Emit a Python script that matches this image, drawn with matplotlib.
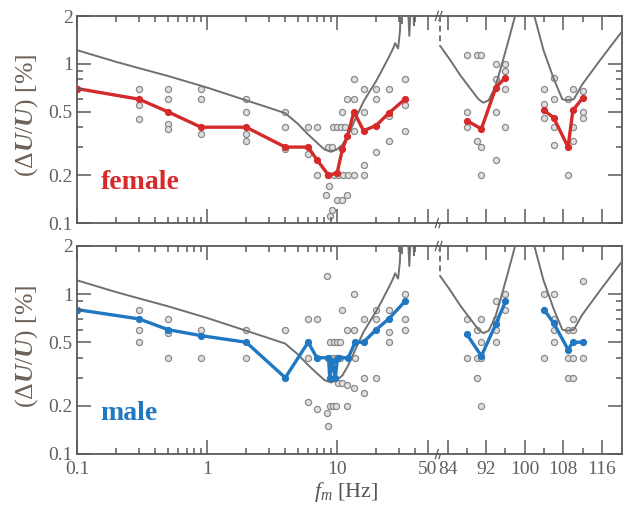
import numpy as np
import matplotlib
matplotlib.use("Agg")
import matplotlib.pyplot as plt
from matplotlib.ticker import FixedLocator, NullFormatter, FixedFormatter

plt.rcParams['font.family'] = ['Liberation Serif', 'DejaVu Serif']
plt.rcParams['mathtext.fontset'] = 'custom'
plt.rcParams['mathtext.rm'] = 'Liberation Serif'
plt.rcParams['mathtext.it'] = 'Liberation Serif:italic'
plt.rcParams['mathtext.bf'] = 'Liberation Serif:bold'
plt.rcParams['mathtext.bfit'] = 'Liberation Serif:bold:italic'

FRAME = '#5a5a5a'
LABC = '#606060'
for a in ('xtick', 'ytick'):
    plt.rcParams[a + '.direction'] = 'in'
    plt.rcParams[a + '.major.size'] = 0
    plt.rcParams[a + '.minor.size'] = 0
    plt.rcParams[a + '.color'] = FRAME
    plt.rcParams[a + '.labelcolor'] = LABC
    plt.rcParams[a + '.labelsize'] = 14
plt.rcParams['xtick.major.pad'] = 5
plt.rcParams['ytick.major.pad'] = 3
plt.rcParams['axes.edgecolor'] = FRAME
plt.rcParams['axes.linewidth'] = 1.3

# ---------------- data ----------------
curve_lo_x = [0.1, 0.2, 0.3, 0.5, 1, 2, 3, 4, 5, 6, 7, 8, 9, 10, 11, 12, 13, 14, 16, 18,
              20, 22, 25, 27, 28, 29.5, 30.5, 31, 31.5, 32, 35, 36, 37, 38.5, 39.1, 39.7]
curve_lo_y = [1.22, 1.03, 0.94, 0.84, 0.71, 0.59, 0.53, 0.49, 0.42, 0.36, 0.32, 0.29, 0.28,
              0.29, 0.31, 0.35, 0.40, 0.46, 0.58, 0.68, 0.78, 0.90, 1.10, 1.25, 1.35, 1.25,
              1.60, 2.5, 1.80, 2.5, 2.5, 1.50, 2.5, 2.5, 1.75, 2.5]
curve_hi1_x = [82.5, 84.5, 86.6, 88.7, 90.4, 91.4, 92.5, 93.9, 94.9, 96.3, 98.0, 98.5]
curve_hi1_y = [1.29, 1.06, 0.85, 0.70, 0.60, 0.57, 0.59, 0.72, 0.91, 1.29, 2.0, 2.3]
curve_hi2_x = [101.6, 102.0, 103.9, 106.0, 107.8, 108.8, 110.2, 111.9, 115.7, 120.2]
curve_hi2_y = [2.3, 2.0, 1.22, 0.81, 0.60, 0.59, 0.60, 0.74, 1.06, 1.60]
curve_dash_x = [82.5, 82.5]
curve_dash_y = [2.0, 1.29]

fem_x_lo = [0.1, 0.3, 0.5, 0.9, 2, 4, 6, 7, 8.6, 10, 11, 12, 13.5, 16, 20, 25, 33.3]
fem_y_lo = [0.70, 0.60, 0.50, 0.40, 0.40, 0.30, 0.30, 0.25, 0.20, 0.205, 0.29, 0.35, 0.50,
            0.38, 0.41, 0.49, 0.60]
fem_x_hi1 = [88, 91, 94, 96]
fem_y_hi1 = [0.44, 0.39, 0.71, 0.82]
fem_x_hi2 = [104, 106, 109, 110, 112]
fem_y_hi2 = [0.51, 0.46, 0.30, 0.51, 0.61]

fem_sc_x = [0.1, 0.3, 0.3, 0.3, 0.5, 0.5, 0.5, 0.5, 0.9, 0.9, 0.9, 2, 2, 2, 2, 4, 4, 4,
            6, 6, 7, 7, 8.6, 9.1, 9.3, 9.95, 10.7, 11.5, 8.6, 9.5, 10.2, 11.2, 12.2, 13.4, 16,
            8.7, 8.3, 10, 10.9, 12, 9.1, 8.8, 13.4, 16, 20, 25, 12, 13.4, 20, 11, 16, 13.5,
            16, 20, 25, 25, 33.3, 33.3, 33.3,
            88, 90, 91, 94, 96, 96, 94, 96, 88, 88, 94, 96, 90, 91, 94, 91,
            106, 104, 110, 106, 109, 112, 104, 104, 112, 112, 106, 110, 106, 110, 109]
fem_sc_y = [0.70, 0.70, 0.55, 0.45, 0.70, 0.60, 0.42, 0.39, 0.70, 0.60, 0.36, 0.60, 0.50,
            0.36, 0.33, 0.50, 0.40, 0.29, 0.40, 0.27, 0.40, 0.20, 0.30, 0.30, 0.40, 0.40,
            0.40, 0.40, 0.20, 0.20, 0.20, 0.20, 0.20, 0.20, 0.20, 0.17, 0.15, 0.14, 0.14,
            0.15, 0.12, 0.11, 0.80, 0.70, 0.70, 0.70, 0.60, 0.60, 0.60, 0.50, 0.50, 0.38,
            0.23, 0.28, 0.33, 0.47, 0.80, 0.55, 0.38,
            1.14, 1.14, 1.14, 1.00, 1.00, 0.90, 0.80, 0.70, 0.50, 0.40, 0.50, 0.40, 0.33,
            0.30, 0.25, 0.20,
            0.82, 0.70, 0.70, 0.60, 0.60, 0.68, 0.56, 0.46, 0.50, 0.46, 0.40, 0.40, 0.31,
            0.33, 0.20]

male_x_lo = [0.1, 0.3, 0.5, 0.9, 2, 4, 6, 7, 8.6, 8.8, 9.2, 9.7, 10.1, 12.2, 13.8, 16, 20,
             25, 33.3]
male_y_lo = [0.80, 0.70, 0.60, 0.55, 0.50, 0.30, 0.50, 0.40, 0.40, 0.30, 0.38, 0.30, 0.40,
             0.40, 0.50, 0.50, 0.60, 0.70, 0.90]
male_x_hi1 = [88, 91, 94, 96]
male_y_hi1 = [0.56, 0.41, 0.65, 0.90]
male_x_hi2 = [104, 106, 109, 110, 112]
male_y_hi2 = [0.80, 0.66, 0.45, 0.50, 0.50]

male_sc_x = [0.1, 0.3, 0.3, 0.3, 0.5, 0.5, 0.5, 0.9, 0.9, 2, 2, 4, 6, 6, 6, 7, 7,
             8.4, 8.4, 8.6, 8.8, 9.4, 10, 10.5, 8.8, 9.4, 10, 10.5, 13.8, 8.8, 9.3, 9.9, 12,
             10.2, 11, 12, 13.5, 16, 16, 20, 13.5, 11, 12, 13.5, 16, 20, 20, 25, 25, 25,
             33.3, 33.3, 33.3,
             88, 91, 90, 91, 94, 96, 96, 94, 94, 94, 88, 90, 91, 90, 91,
             104, 106, 112, 110, 106, 106, 109, 110, 106, 104, 109, 110, 112, 109, 110]
male_sc_y = [0.80, 0.80, 0.60, 0.50, 0.70, 0.57, 0.40, 0.60, 0.40, 0.60, 0.40, 0.60, 0.70,
             0.40, 0.21, 0.70, 0.19, 1.30, 0.18, 0.15, 0.50, 0.50, 0.50, 0.50, 0.40, 0.40,
             0.40, 0.40, 0.40, 0.20, 0.20, 0.20, 0.20, 0.28, 0.28, 0.27, 0.26, 0.24, 0.30,
             0.30, 1.00, 0.80, 0.60, 0.60, 0.70, 0.70, 0.80, 0.80, 0.58, 0.50, 1.00, 0.70,
             0.60,
             0.70, 0.70, 0.60, 0.50, 0.90, 1.00, 0.80, 0.70, 0.60, 0.50, 0.40, 0.40, 0.40,
             0.30, 0.20,
             1.00, 1.00, 1.20, 0.70, 0.70, 0.60, 0.60, 0.60, 0.50, 0.40, 0.40, 0.40, 0.40,
             0.30, 0.30]

y_major = [0.1, 0.2, 0.5, 1, 2]
y_major_labels = ['0.1', '0.2', '0.5', '1', '2']
y_minor = [0.3, 0.4, 0.6, 0.7, 0.8, 0.9]
x_lo_major = [0.1, 1, 10, 50]
x_lo_labels = ['0.1', '1', '10', '50']
x_lo_minor = [0.2, 0.3, 0.4, 0.5, 0.6, 0.7, 0.8, 0.9, 2, 3, 4, 5, 6, 7, 8, 9, 20, 30, 40]
x_hi_major = [84, 92, 100, 108, 116]
x_hi_labels = ['84', '92', '100', '108', '116']
x_hi_minor = [88, 96, 104, 112]

# ---------------- figure ----------------
W, H = 630, 515
fig = plt.figure(figsize=(W / 100, H / 100), dpi=100)
fig.patch.set_facecolor('white')

CURVE = '#707070'
RED = '#d42a2a'
BLUE = '#1f78c1'
SC_EDGE = '#8a8a8a'
SC_FACE = '#e0e0e0'

x0, xb, x1 = 77, 439, 622
panels = [(16, 223), (246, 454)]
TMAJ, TMIN = 14, 6  # tick lengths in pixels


def fx(px):
    return px / W


def fy(py):
    return 1 - py / H


def draw_ticks(ax, wpx, hpx, xmaj, xmin, ymaj, ymin, yside):
    # inward tick marks drawn as plain lines (top/bottom for x, one side for y)
    tx = ax.get_xaxis_transform()
    ty = ax.get_yaxis_transform()
    kw = dict(color=FRAME, lw=1.1, clip_on=False, zorder=6, solid_capstyle='butt')
    for ticks, L in ((xmaj, TMAJ), (xmin, TMIN)):
        f = L / hpx
        for v in ticks:
            ax.plot([v, v], [0, f], transform=tx, **kw)
            ax.plot([v, v], [1 - f, 1], transform=tx, **kw)
    for ticks, L in ((ymaj, TMAJ), (ymin, TMIN)):
        f = L / wpx
        for v in ticks:
            if yside == 'left':
                ax.plot([0, f], [v, v], transform=ty, **kw)
            else:
                ax.plot([1 - f, 1], [v, v], transform=ty, **kw)


sc_kw = dict(ls='none', marker='o', ms=4.4, mec=SC_EDGE, mfc=SC_FACE, mew=0.9, zorder=2)

datasets = [
    (fem_x_lo, fem_y_lo, fem_x_hi1, fem_y_hi1, fem_x_hi2, fem_y_hi2, fem_sc_x, fem_sc_y, RED, 'female'),
    (male_x_lo, male_y_lo, male_x_hi1, male_y_hi1, male_x_hi2, male_y_hi2, male_sc_x, male_sc_y, BLUE, 'male'),
]

for i, ((pt, pb), d) in enumerate(zip(panels, datasets)):
    xl, yl, xh1, yh1, xh2, yh2, sx, sy, col, name = d
    hpx = pb - pt
    axl = fig.add_axes([fx(x0), fy(pb), fx(xb - x0), hpx / H])
    axr = fig.add_axes([fx(xb), fy(pb), fx(x1 - xb), hpx / H])

    for ax in (axl, axr):
        ax.set_yscale('log')
        ax.set_ylim(0.1, 2)
        ax.yaxis.set_major_locator(FixedLocator(y_major))
        ax.yaxis.set_minor_locator(FixedLocator(y_minor))
        ax.yaxis.set_minor_formatter(NullFormatter())
    axl.yaxis.set_major_formatter(FixedFormatter(y_major_labels))

    axl.set_xscale('log')
    axl.set_xlim(0.1, 60.9)
    axl.xaxis.set_major_locator(FixedLocator(x_lo_major))
    axl.xaxis.set_major_formatter(FixedFormatter(x_lo_labels))
    axl.xaxis.set_minor_locator(FixedLocator(x_lo_minor))
    axl.xaxis.set_minor_formatter(NullFormatter())
    axr.set_xlim(82.2, 120.2)
    axr.xaxis.set_major_locator(FixedLocator(x_hi_major))
    axr.xaxis.set_major_formatter(FixedFormatter(x_hi_labels))
    axr.xaxis.set_minor_locator(FixedLocator(x_hi_minor))

    axl.spines['right'].set_visible(False)
    axr.spines['left'].set_visible(False)
    axl.yaxis.set_ticks_position('left')
    axr.yaxis.set_ticks_position('right')
    axr.tick_params(axis='y', which='both', labelright=False, labelleft=False)
    if i == 0:
        axl.tick_params(axis='x', which='both', labelbottom=False)
        axr.tick_params(axis='x', which='both', labelbottom=False)

    draw_ticks(axl, xb - x0, hpx, x_lo_major, x_lo_minor, y_major, y_minor, 'left')
    draw_ticks(axr, x1 - xb, hpx, x_hi_major, x_hi_minor, y_major, y_minor, 'right')

    # grey curve
    axl.plot(curve_lo_x, curve_lo_y, color=CURVE, lw=1.4, zorder=3)
    axr.plot(curve_hi1_x, curve_hi1_y, color=CURVE, lw=1.4, zorder=3)
    axr.plot(curve_hi2_x, curve_hi2_y, color=CURVE, lw=1.4, zorder=3)
    axr.plot(curve_dash_x, curve_dash_y, color=CURVE, lw=1.4, ls=(0, (3, 2)), zorder=3)

    sx_a = np.array(sx)
    sy_a = np.array(sy)
    lo = sx_a < 70
    axl.plot(sx_a[lo], sy_a[lo], **sc_kw)
    axr.plot(sx_a[~lo], sy_a[~lo], **sc_kw)

    ln_kw = dict(color=col, lw=2.4, marker='o', ms=4.2, zorder=5)
    axl.plot(xl, yl, **ln_kw)
    axr.plot(xh1, yh1, **ln_kw)
    axr.plot(xh2, yh2, **ln_kw)

    axl.text(0.065, 0.165, name, transform=axl.transAxes,
             color=col, fontsize=20, fontweight='bold', ha='left', va='baseline')

    # break marks "//"
    for yy in (0, 1):
        for dx in (-0.006, 0.004):
            axl.plot([1 + dx - 0.004, 1 + dx + 0.004], [yy - 0.022, yy + 0.022],
                     transform=axl.transAxes, color=FRAME, lw=0.9, clip_on=False, zorder=10)

    fig.text(fx(27), fy((pt + pb) / 2 - 4),
             r'$(\Delta\boldsymbol{U}/\boldsymbol{U})$ [%]',
             rotation=90, ha='center', va='center', fontsize=18.5, color='#6e6258')

fig.text(fx(346), fy(497), r'$\boldsymbol{f_m}$ [Hz]', ha='center', va='baseline',
         fontsize=16, color='#555555')

fig.savefig('out.png', dpi=100, facecolor='white')
